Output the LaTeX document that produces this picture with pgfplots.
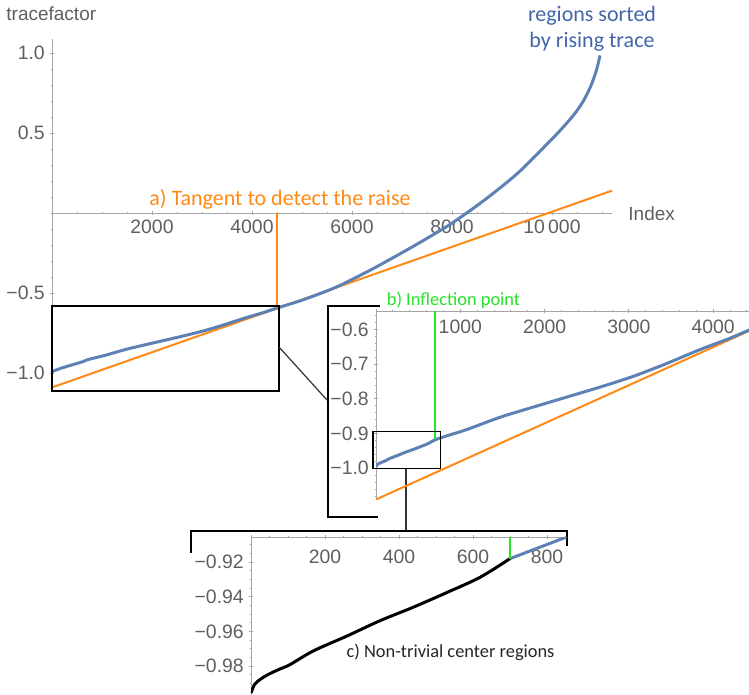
\documentclass[border=0pt]{standalone}
\usepackage{pgfplots}
\pgfplotsset{compat=1.18}
\usepackage{pgfplotstable}
\usepackage{fontspec}
\setmainfont{Liberation Sans}
\newfontfamily\calibri{Carlito}
\definecolor{mblue}{RGB}{94,129,181}
\definecolor{tblue}{RGB}{66,102,168}
\definecolor{morange}{RGB}{255,137,20}
\definecolor{mgreen}{RGB}{40,225,40}
\definecolor{axgray}{RGB}{165,165,165}
\definecolor{lblgray}{RGB}{95,95,95}

\pgfplotstableread{
x y
0 -0.9955
10 -0.9905
25 -0.9877
45 -0.9850
78 -0.9817
105 -0.9792
169 -0.9712
259 -0.9627
349 -0.9538
439 -0.9460
529 -0.9376
619 -0.9288
700 -0.9180
851 -0.9057
1076 -0.8885
1471 -0.8530
1866 -0.8236
2262 -0.7948
2657 -0.766
3052 -0.735
3448 -0.698
3843 -0.658
4200 -0.625
4500 -0.594
5027 -0.542
5693 -0.462
6360 -0.358
6760 -0.290
7227 -0.208
7893 -0.085
8293 0.0
8560 0.060
8893 0.140
9360 0.262
9960 0.450
10160 0.515
10360 0.585
10500 0.640
10627 0.700
10750 0.775
10827 0.835
10900 0.905
10960 0.985
}\trace

\tikzset{annot/.style={font=\calibri\fontsize{11}{14}\selectfont},
         annots/.style={font=\calibri\fontsize{9.2}{11}\selectfont}}
\pgfplotsset{
  mstyle/.style={
    scale only axis,
    scaled x ticks=false,
    scaled y ticks=false,
    axis line style={axgray,line width=0.5pt},
    every inner x axis line/.append style={-},
    every inner y axis line/.append style={-},
    every outer x axis line/.append style={-},
    every outer y axis line/.append style={-},
    tick style={axgray,line width=0.45pt},
    major tick length=2.2pt,
    minor tick length=1.3pt,
    tick align=inside,
    ticklabel style={font=\fontsize{9.7}{11}\selectfont, text=lblgray},
    yticklabel style={xshift=1pt},
    clip mode=individual,
  },
}

\begin{document}
\begin{tikzpicture}
\path[use as bounding box] (0,0) rectangle (374.5pt,-347.5pt);

% ---------------- main axis ----------------
\begin{axis}[mstyle,
  at={(26pt,-194.9pt)}, anchor=south west,
  width=280pt, height=175.6pt,
  xmin=0, xmax=11200, ymin=-1.105, ymax=1.09,
  axis lines=middle,
  axis line style={-},
  clip=false,
  xtick={0,2000,4000,6000,8000,10000},
  xticklabels={,2000,4000,6000,8000,10\,000},
  xticklabel style={yshift=1pt},
  minor xtick={500,1000,...,11000},
  ytick={-1,-0.5,0,0.5,1},
  yticklabels={−1.0,−0.5,,0.5,1.0},
  minor ytick={-1.1,-1.0,...,1.05},
]
\addplot[morange, line width=1pt] coordinates {(0,-1.09) (11200,0.1398)};
\addplot[mblue, line width=1.5pt, smooth] table[x=x,y=y] {\trace};
\draw[morange, line width=1pt] (axis cs:4500,0) -- (axis cs:4500,-0.596);
\draw[black, line width=0.75pt] (axis cs:0,-1.112) rectangle (axis cs:4540,-0.581);
\node[morange, annot, anchor=base] at (axis cs:4560,0.05) {a) Tangent to detect the raise};
\node[tblue, annot, anchor=base] at (axis cs:10800,1.20) {regions sorted};
\node[tblue, annot, anchor=base] at (axis cs:10800,1.035) {by rising trace};
\node[lblgray, anchor=base west, font=\fontsize{9.5}{11}\selectfont, inner sep=0pt] at (axis cs:-920,1.206) {tracefactor};
\node[lblgray, anchor=base west, font=\fontsize{9.5}{11}\selectfont, inner sep=0pt] at (axis cs:11520,-0.044) {Index};
\end{axis}

% ---------------- frames and connectors ----------------
\begin{scope}[x=0.5pt,y=-0.5pt]
\draw[black, line width=0.75pt] (380,306) -- (328,306) -- (328,517) -- (378,517);
\draw[black!80, line width=0.6pt] (279,347) -- (327,400);
\draw[black!80, line width=0.7pt] (406,468) -- (406,531);
\draw[black, line width=0.75pt] (191,553) -- (191,531) -- (567,531) -- (567,546);
\node[mgreen, annots, anchor=base] at (453.5,305) {b) Inflection point};
\node[black!85, annots, anchor=base] at (450.5,657) {c) Non-trivial center regions};
\end{scope}

% ---------------- inset b ----------------
\begin{axis}[mstyle,
  at={(188pt,-249.5pt)}, anchor=south west,
  width=186.5pt, height=94pt,
  xmin=0, xmax=4425, ymin=-1.0886, ymax=-0.5466,
  axis x line=top, axis y line=left,
  axis line style={-},
  xtick={0,1000,2000,3000,4000},
  xticklabels={,1000,2000,3000,4000},
  minor xtick={200,400,...,4400},
  ytick={-1,-0.9,-0.8,-0.7,-0.6},
  yticklabels={−1.0,−0.9,−0.8,−0.7,−0.6},
  minor ytick={-1.08,-1.06,...,-0.55},
  xticklabel style={anchor=north, yshift=-2pt},
]
\addplot[morange, line width=1pt] coordinates {(0,-1.09) (11200,0.1398)};
\addplot[mblue, line width=1.5pt, smooth] table[x=x,y=y] {\trace};
\draw[mgreen, line width=1pt] (axis cs:700,-0.5466) -- (axis cs:700,-0.915);
\draw[black, line width=0.75pt] (axis cs:-36,-0.894) rectangle (axis cs:763,-1.0);
\end{axis}

% ---------------- inset c ----------------
\begin{axis}[mstyle,
  at={(125.5pt,-347.5pt)}, anchor=south west,
  width=158pt, height=78.95pt,
  xmin=0, xmax=854, ymin=-0.9967, ymax=-0.9056,
  axis x line=top, axis y line=left,
  axis line style={-},
  xtick={0,200,400,600,800},
  xticklabels={,200,400,600,800},
  minor xtick={50,100,...,850},
  ytick={-0.98,-0.96,-0.94,-0.92},
  yticklabels={−0.98,−0.96,−0.94,−0.92},
  minor ytick={-0.995,-0.99,...,-0.905},
  xticklabel style={anchor=north, yshift=-4pt},
]
\addplot[mblue, line width=1.5pt, smooth, restrict x to domain=700:900] table[x=x,y=y] {\trace};
\addplot[black, line width=1.5pt, smooth, restrict x to domain=0:700] table[x=x,y=y] {\trace};
\draw[mgreen, line width=1pt] (axis cs:700,-0.9056) -- (axis cs:700,-0.918);
\end{axis}
\end{tikzpicture}
\end{document}
